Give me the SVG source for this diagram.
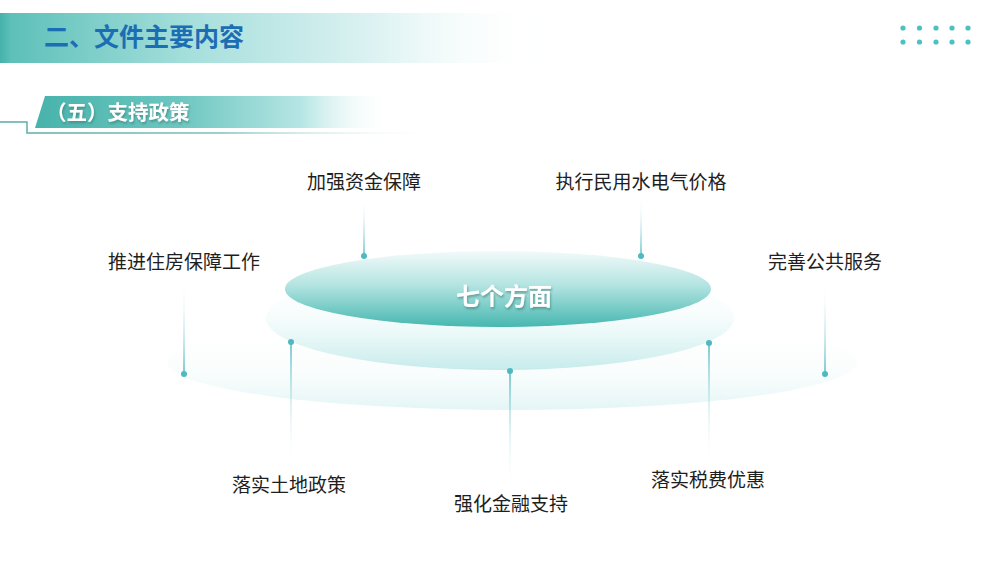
<svg xmlns="http://www.w3.org/2000/svg" width="1000" height="563" viewBox="0 0 1000 563">
  <defs>
    <style>
      .lbl { font-family: "Noto Sans CJK SC", "Noto Sans", sans-serif; font-size: 19px; fill: #1e1e1e; text-anchor: middle; }
      .dot { fill: #4fb9c1; }
      .grid { fill: #4ec0c4; }
    </style>
    <linearGradient id="hdr" x1="0" y1="0" x2="545" y2="0" gradientUnits="userSpaceOnUse">
      <stop offset="0" stop-color="#45b2aa"/>
      <stop offset="0.02" stop-color="#5dc0b9"/>
      <stop offset="0.35" stop-color="#a6dfdc"/>
      <stop offset="0.7" stop-color="#dff3f3"/>
      <stop offset="1" stop-color="#ffffff" stop-opacity="0"/>
    </linearGradient>
    <linearGradient id="sub" x1="35" y1="0" x2="392" y2="0" gradientUnits="userSpaceOnUse">
      <stop offset="0" stop-color="#47b3ab"/>
      <stop offset="0.4" stop-color="#6cc6c0"/>
      <stop offset="0.75" stop-color="#b7e6e4"/>
      <stop offset="1" stop-color="#ffffff" stop-opacity="0"/>
    </linearGradient>
    <linearGradient id="subline" x1="0" y1="0" x2="445" y2="0" gradientUnits="userSpaceOnUse">
      <stop offset="0" stop-color="#5aaaa3"/>
      <stop offset="0.5" stop-color="#7cc2bc"/>
      <stop offset="1" stop-color="#ffffff" stop-opacity="0"/>
    </linearGradient>
    <linearGradient id="topE" x1="0" y1="0" x2="0" y2="1">
      <stop offset="0" stop-color="#f2fafa"/>
      <stop offset="0.45" stop-color="#b3e4e1"/>
      <stop offset="1" stop-color="#47b7b0"/>
    </linearGradient>
    <linearGradient id="midE" x1="0" y1="0" x2="0" y2="1">
      <stop offset="0" stop-color="#ffffff" stop-opacity="0"/>
      <stop offset="0.5" stop-color="#effafa" stop-opacity="0.6"/>
      <stop offset="1" stop-color="#c6ebeb"/>
    </linearGradient>
    <linearGradient id="botE" x1="0" y1="0" x2="0" y2="1">
      <stop offset="0" stop-color="#ffffff" stop-opacity="0"/>
      <stop offset="0.55" stop-color="#f4fbfb" stop-opacity="0.4"/>
      <stop offset="1" stop-color="#e3f5f5"/>
    </linearGradient>
    <linearGradient id="lineDown" x1="0" y1="0" x2="0" y2="1">
      <stop offset="0" stop-color="#ffffff" stop-opacity="0"/>
      <stop offset="1" stop-color="#4fb9c1"/>
    </linearGradient>
    <linearGradient id="lineUp" x1="0" y1="0" x2="0" y2="1">
      <stop offset="0" stop-color="#4fb9c1"/>
      <stop offset="1" stop-color="#ffffff" stop-opacity="0"/>
    </linearGradient>
    <filter id="sh" x="-20%" y="-40%" width="140%" height="180%">
      <feDropShadow dx="1" dy="2" stdDeviation="1" flood-color="#3a6f6c" flood-opacity="0.55"/>
    </filter>
  </defs>

  <rect width="1000" height="563" fill="#ffffff"/>

  <g id="header">
    <rect x="0" y="13" width="545" height="50" fill="url(#hdr)"/>
    <text x="44" y="46" font-family="Noto Sans CJK SC, sans-serif" font-size="25" font-weight="bold" fill="#1b6eb3">二、文件主要内容</text>
  </g>

  <g id="dots">
    <circle class="grid" cx="903" cy="28" r="2.6"/>
    <circle class="grid" cx="919.5" cy="28" r="2.6"/>
    <circle class="grid" cx="936" cy="28" r="2.6"/>
    <circle class="grid" cx="952" cy="28" r="2.6"/>
    <circle class="grid" cx="968" cy="28" r="2.6"/>
    <circle class="grid" cx="903" cy="42" r="2.6"/>
    <circle class="grid" cx="919.5" cy="42" r="2.6"/>
    <circle class="grid" cx="936" cy="42" r="2.6"/>
    <circle class="grid" cx="952" cy="42" r="2.6"/>
    <circle class="grid" cx="968" cy="42" r="2.6"/>
  </g>

  <g id="subtitle">
    <polygon points="45,96 392,96 392,128 35,128" fill="url(#sub)"/>
    <path d="M0,122 H27 V133 H445" fill="none" stroke="url(#subline)" stroke-width="1.5"/>
    <text x="46" y="120" font-family="Noto Sans CJK SC, sans-serif" font-size="20.5" font-weight="bold" fill="#ffffff" filter="url(#sh)">（五）支持政策</text>
  </g>

  <g id="base">
    <ellipse cx="512" cy="362" rx="345" ry="48" fill="url(#botE)"/>
    <ellipse cx="500" cy="318" rx="234" ry="52" fill="url(#midE)"/>
  </g>

  <g id="connectors">
    <rect x="363.25" y="195" width="1.5" height="61" fill="url(#lineDown)"/>
    <rect x="640.25" y="195" width="1.5" height="61" fill="url(#lineDown)"/>
    <rect x="183.25" y="278" width="1.5" height="96" fill="url(#lineDown)"/>
    <rect x="824.25" y="278" width="1.5" height="96" fill="url(#lineDown)"/>
    <rect x="290.25" y="342" width="1.5" height="128" fill="url(#lineUp)"/>
    <rect x="509.25" y="371" width="1.5" height="120" fill="url(#lineUp)"/>
    <rect x="708.25" y="343" width="1.5" height="124" fill="url(#lineUp)"/>
  </g>

  <g id="center">
    <ellipse cx="498" cy="289" rx="213" ry="38" fill="url(#topE)"/>
    <text x="504" y="305" font-family="Noto Sans CJK SC, sans-serif" font-size="24" font-weight="bold" fill="#ffffff" text-anchor="middle" filter="url(#sh)">七个方面</text>
  </g>

  <g id="n1">
    <circle class="dot" cx="364" cy="256" r="3"/>
    <text class="lbl" x="364" y="189">加强资金保障</text>
  </g>
  <g id="n2">
    <circle class="dot" cx="641" cy="256" r="3"/>
    <text class="lbl" x="641" y="189">执行民用水电气价格</text>
  </g>
  <g id="n3">
    <circle class="dot" cx="184" cy="374" r="3"/>
    <text class="lbl" x="184" y="269">推进住房保障工作</text>
  </g>
  <g id="n4">
    <circle class="dot" cx="825" cy="374" r="3"/>
    <text class="lbl" x="825" y="269">完善公共服务</text>
  </g>
  <g id="n5">
    <circle class="dot" cx="291" cy="342" r="3"/>
    <text class="lbl" x="289" y="492">落实土地政策</text>
  </g>
  <g id="n6">
    <circle class="dot" cx="510" cy="371" r="3"/>
    <text class="lbl" x="511" y="511">强化金融支持</text>
  </g>
  <g id="n7">
    <circle class="dot" cx="709" cy="343" r="3"/>
    <text class="lbl" x="708" y="487">落实税费优惠</text>
  </g>
</svg>
